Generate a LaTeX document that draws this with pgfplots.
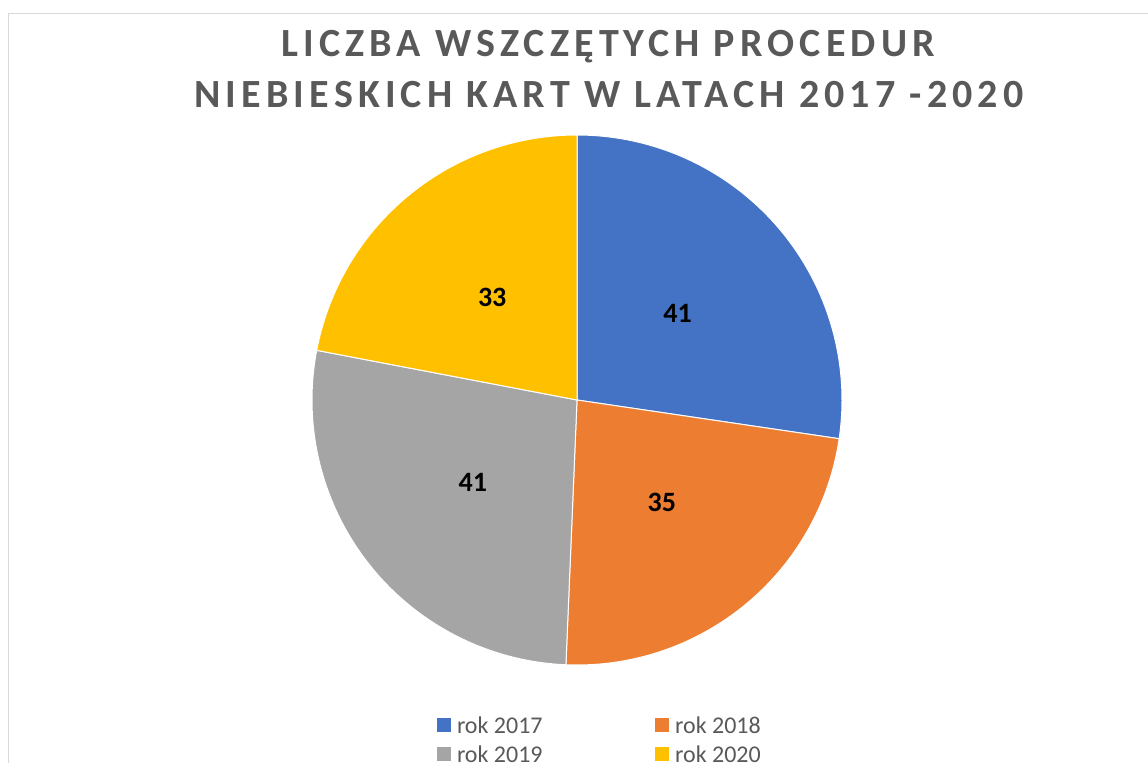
\documentclass[border=0pt]{standalone}
\usepackage{fontspec}
\setmainfont{Carlito}
\newfontfamily\titlefont[LetterSpace=12.8]{Carlito}
\usepackage{pgfplots}
\usepackage{pgfplotstable}
\pgfplotsset{compat=1.18}
\definecolor{c17}{HTML}{4472C4}
\definecolor{c18}{HTML}{ED7D31}
\definecolor{c19}{HTML}{A5A5A5}
\definecolor{c20}{HTML}{FFC000}
\definecolor{txtgray}{HTML}{595959}
\definecolor{framegray}{HTML}{D9D9D9}

\pgfplotstableread{
year value
2017 41
2018 35
2019 41
2020 33
}\piedata

\begin{document}
\begin{tikzpicture}
\pgfplotstablegetelem{0}{value}\of\piedata \let\va\pgfplotsretval
\pgfplotstablegetelem{1}{value}\of\piedata \let\vb\pgfplotsretval
\pgfplotstablegetelem{2}{value}\of\piedata \let\vc\pgfplotsretval
\pgfplotstablegetelem{3}{value}\of\piedata \let\vd\pgfplotsretval
\pgfmathsetmacro{\tot}{\va+\vb+\vc+\vd}
\pgfmathsetmacro{\aA}{90}
\pgfmathsetmacro{\aB}{\aA-360*\va/\tot}
\pgfmathsetmacro{\aC}{\aB-360*\vb/\tot}
\pgfmathsetmacro{\aD}{\aC-360*\vc/\tot}
\pgfmathsetmacro{\aE}{\aD-360*\vd/\tot}
\def\cx{577}\def\cy{363}\def\R{265}\def\lr{133}
\pgfmathsetmacro{\lAx}{\cx+\lr*cos((\aA+\aB)/2)}\pgfmathsetmacro{\lAy}{\cy+\lr*sin((\aA+\aB)/2)}
\pgfmathsetmacro{\lBx}{\cx+\lr*cos((\aB+\aC)/2)}\pgfmathsetmacro{\lBy}{\cy+\lr*sin((\aB+\aC)/2)}
\pgfmathsetmacro{\lCx}{\cx+\lr*cos((\aC+\aD)/2)}\pgfmathsetmacro{\lCy}{\cy+\lr*sin((\aC+\aD)/2)}
\pgfmathsetmacro{\lDx}{\cx+\lr*cos((\aD+\aE)/2)}\pgfmathsetmacro{\lDy}{\cy+\lr*sin((\aD+\aE)/2)}
\path[use as bounding box] (0,0) rectangle (1148pt,763pt);
\begin{axis}[
  at={(0,0)}, anchor=south west,
  width=1148pt, height=763pt, scale only axis,
  xmin=0, xmax=1148, ymin=0, ymax=763,
  hide axis, clip=false,
  legend image code/.code={\fill[#1, draw=none] (0pt,-7pt) rectangle (14pt,7pt);},
  legend columns=2,
  legend cell align=left,
  legend style={at={(axis cs:437,52)}, anchor=north west, draw=none, fill=none,
    inner sep=0pt, outer sep=0pt, row sep=1pt,
    font=\fontsize{24}{29}\selectfont, text=txtgray,
    nodes={inner sep=0pt, text height=22pt, text depth=6pt},
    /tikz/every odd column/.append style={column sep=6pt},
    /tikz/every even column/.append style={column sep=112.5pt}},
]
\addplot[fill=c17, draw=white, line width=1pt, domain=\aB:\aA, samples=120, variable=\t]
  ({\cx+\R*cos(\t)},{\cy+\R*sin(\t)}) -- (axis cs:\cx,\cy) -- cycle;
\addlegendentry{rok 2017}
\addplot[fill=c18, draw=white, line width=1pt, domain=\aC:\aB, samples=120, variable=\t]
  ({\cx+\R*cos(\t)},{\cy+\R*sin(\t)}) -- (axis cs:\cx,\cy) -- cycle;
\addlegendentry{rok 2018}
\addplot[fill=c19, draw=white, line width=1pt, domain=\aD:\aC, samples=120, variable=\t]
  ({\cx+\R*cos(\t)},{\cy+\R*sin(\t)}) -- (axis cs:\cx,\cy) -- cycle;
\addlegendentry{rok 2019}
\addplot[fill=c20, draw=white, line width=1pt, domain=\aE:\aD, samples=120, variable=\t]
  ({\cx+\R*cos(\t)},{\cy+\R*sin(\t)}) -- (axis cs:\cx,\cy) -- cycle;
\addlegendentry{rok 2020}
\draw[framegray, line width=1.3pt] (axis cs:8.5,0) -- (axis cs:8.5,749.7) -- (axis cs:1148,749.7);
\node[font=\titlefont\bfseries\fontsize{40}{48}\selectfont, text=txtgray, anchor=base, inner sep=0pt]
  at (axis cs:608,706) {LICZBA WSZCZĘTYCH PROCEDUR};
\node[font=\titlefont\bfseries\fontsize{40}{48}\selectfont, text=txtgray, anchor=base, inner sep=0pt]
  at (axis cs:609,655) {NIEBIESKICH KART W LATACH 2017 -2020};
\node[font=\bfseries\fontsize{28}{34}\selectfont, inner sep=0pt] at (axis cs:\lAx,\lAy) {\va};
\node[font=\bfseries\fontsize{28}{34}\selectfont, inner sep=0pt] at (axis cs:\lBx,\lBy) {\vb};
\node[font=\bfseries\fontsize{28}{34}\selectfont, inner sep=0pt] at (axis cs:\lCx,\lCy) {\vc};
\node[font=\bfseries\fontsize{28}{34}\selectfont, inner sep=0pt] at (axis cs:\lDx,\lDy) {\vd};
\end{axis}
\end{tikzpicture}
\end{document}
